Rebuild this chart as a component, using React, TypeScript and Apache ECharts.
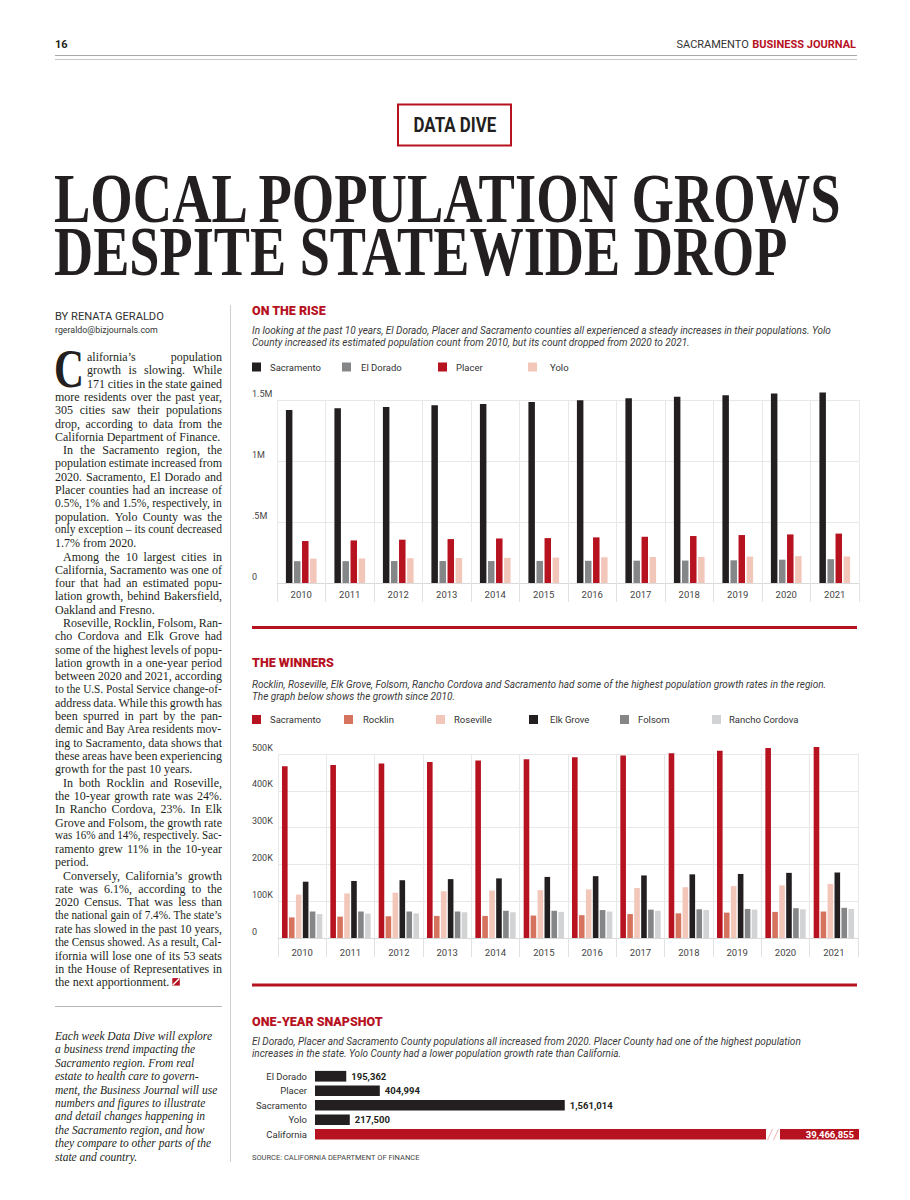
import React, { useEffect, useRef } from "react";
import * as echarts from "echarts";

// ---------- DATA ----------
const years = ["2010", "2011", "2012", "2013", "2014", "2015", "2016", "2017", "2018", "2019", "2020", "2021"];

const countyNames = ["Sacramento", "El Dorado", "Placer", "Yolo"];
const countySacramento = [1418000, 1432000, 1443000, 1456000, 1467000, 1484000, 1497000, 1514000, 1527000, 1538000, 1554000, 1561014];
const countyElDorado = [179000, 179000, 180000, 180000, 180000, 181000, 182000, 183000, 184000, 186000, 191000, 195362];
const countyPlacer = [344000, 349000, 355000, 360000, 365000, 368000, 374000, 379000, 385000, 393000, 398000, 404994];
const countyYolo = [200000, 201000, 203000, 205000, 206000, 208000, 211000, 213000, 214000, 216000, 220000, 217500];

const cityNames = ["Sacramento", "Rocklin", "Roseville", "Elk Grove", "Folsom", "Rancho Cordova"];
const citySacramento = [467000, 470000, 474000, 478000, 482000, 486000, 491000, 496000, 502000, 509000, 516000, 519000];
const cityRocklin = [56000, 58000, 59000, 60000, 60000, 61000, 62000, 65000, 67000, 69000, 71000, 72000];
const cityRoseville = [118000, 121000, 123000, 127000, 129000, 130000, 132000, 136000, 138000, 141000, 143000, 147000];
const cityElkGrove = [153000, 155000, 157000, 160000, 162000, 166000, 168000, 170000, 173000, 174000, 177000, 178000];
const cityFolsom = [72000, 72000, 72000, 72000, 74000, 74000, 76000, 77000, 78000, 79000, 81000, 82000];
const cityRanchoCordova = [65000, 66000, 67000, 70000, 70000, 71000, 72000, 74000, 76000, 77000, 78000, 79000];

const snapshotNames = ["El Dorado", "Placer", "Sacramento", "Yolo", "California"];
const snapshotValues = [195362, 404994, 1561014, 217500, 39466855];

const riseTickLabels = ["0", ".5M", "1M", "1.5M"];
const winnersTickLabels = ["0", "100K", "200K", "300K", "400K", "500K"];

const bodyLines = [
  "alifornia\u2019s population",
  "growth is slowing. While",
  "171 cities in the state gained",
  "more residents over the past year,",
  "305 cities saw their populations",
  "drop, according to data from the",
  "California Department of Finance.",
  "In the Sacramento region, the",
  "population estimate increased from",
  "2020. Sacramento, El Dorado and",
  "Placer counties had an increase of",
  "0.5%, 1% and 1.5%, respectively, in",
  "population. Yolo County was the",
  "only exception \u2013 its count decreased",
  "1.7% from 2020.",
  "Among the 10 largest cities in",
  "California, Sacramento was one of",
  "four that had an estimated popu-",
  "lation growth, behind Bakersfield,",
  "Oakland and Fresno.",
  "Roseville, Rocklin, Folsom, Ran-",
  "cho Cordova and Elk Grove had",
  "some of the highest levels of popu-",
  "lation growth in a one-year period",
  "between 2020 and 2021, according",
  "to the U.S. Postal Service change-of-",
  "address data. While this growth has",
  "been spurred in part by the pan-",
  "demic and Bay Area residents mov-",
  "ing to Sacramento, data shows that",
  "these areas have been experiencing",
  "growth for the past 10 years.",
  "In both Rocklin and Roseville,",
  "the 10-year growth rate was 24%.",
  "In Rancho Cordova, 23%. In Elk",
  "Grove and Folsom, the growth rate",
  "was 16% and 14%, respectively. Sac-",
  "ramento grew 11% in the 10-year",
  "period.",
  "Conversely, California\u2019s growth",
  "rate was 6.1%, according to the",
  "2020 Census. That was less than",
  "the national gain of 7.4%. The state\u2019s",
  "rate has slowed in the past 10 years,",
  "the Census showed. As a result, Cal-",
  "ifornia will lose one of its 53 seats",
  "in the House of Representatives in",
  "the next apportionment.",
];
const paragraphStarts = [7, 15, 20, 32, 39];
const paragraphEnds = [6, 14, 19, 31, 38, 47];

const noteLines = [
  "Each week Data Dive will explore",
  "a business trend impacting the",
  "Sacramento region. From real",
  "estate to health care to govern-",
  "ment, the Business Journal will use",
  "numbers and figures to illustrate",
  "and detail changes happening in",
  "the Sacramento region, and how",
  "they compare to other parts of the",
  "state and country.",
];

const riseSub = [
  "In looking at the past 10 years, El Dorado, Placer and Sacramento counties all experienced a steady increases in their populations. Yolo",
  "County increased its estimated population count from 2010, but its count dropped from 2020 to 2021.",
];
const winnersSub = [
  "Rocklin, Roseville, Elk Grove, Folsom, Rancho Cordova and Sacramento had some of the highest population growth rates in the region.",
  "The graph below shows the growth since 2010.",
];
const snapSub = [
  "El Dorado, Placer and Sacramento County populations all increased from 2020. Placer County had one of the highest population",
  "increases in the state. Yolo County had a lower population growth rate than California.",
];

// ---------- STYLE ----------
const RED = "#b7121f";
const BLACK = "#231f20";
const GRAY = "#858688";
const PINK = "#f3c6ba";
const SALMON = "#d6735f";
const LIGHTGRAY = "#d2d3d5";
const SANS = "Roboto";
const SERIF = "'Liberation Serif'";

export default function App() {
  const ref = useRef<HTMLDivElement>(null);

  useEffect(() => {
    const chart = echarts.init(ref.current!, null, { renderer: "svg", width: 910, height: 1200 });
    const canvas = document.createElement("canvas");
    const ctx = canvas.getContext("2d")!;
    const mw = (t: string, font: string) => {
      ctx.font = font.replace(/'/g, '"');
      return ctx.measureText(t).width;
    };
    const g: any[] = [];
    const txt = (text: string, x: number, y: number, font: string, fill: string, extra: any = {}) => {
      const align = extra.align || "left";
      const el: any = {
        type: "text",
        x,
        y,
        silent: true,
        style: { text, x: 0, y: 0, font, fill, textAlign: align, align, textVerticalAlign: "middle", verticalAlign: "middle" },
      };
      if (extra.scaleX) el.scaleX = extra.scaleX;
      g.push(el);
    };
    const line = (x1: number, y1: number, x2: number, y2: number, stroke: string, w = 1) =>
      g.push({ type: "line", silent: true, shape: { x1, y1, x2, y2 }, style: { stroke, lineWidth: w } });

    // header
    txt("16", 55, 44, `bold 11px ${SANS}`, BLACK);
    const hb = `bold 11px ${SANS}`;
    const wBJ = mw("BUSINESS JOURNAL", hb);
    txt("BUSINESS JOURNAL", 856, 44, hb, RED, { align: "right" });
    txt("SACRAMENTO", 856 - wBJ - 3.5, 44, `11px ${SANS}`, "#333", { align: "right" });
    line(55, 55.5, 857, 55.5, "#a8a8a8", 1.2);
    line(55, 59.5, 857, 59.5, "#c8c8c8", 1);

    // data dive box
    g.push({ type: "rect", silent: true, shape: { x: 398, y: 104.5, width: 113, height: 41 }, style: { fill: "none", stroke: RED, lineWidth: 2 } });
    const ddFont = `bold 20px ${SANS}`;
    const ddW = mw("DATA DIVE", ddFont);
    const ddS = 83 / ddW;
    txt("DATA DIVE", 455 - (ddW * ddS) / 2, 126, ddFont, BLACK, { scaleX: ddS });

    // headline
    const hf = `bold 70px ${SERIF}`;
    const t1 = "LOCAL POPULATION GROWS";
    const t2 = "DESPITE STATEWIDE DROP";
    txt(t1, 54, 199, hf, BLACK, { scaleX: 790 / mw(t1, hf) });
    txt(t2, 54, 251.5, hf, BLACK, { scaleX: 734 / mw(t2, hf) });

    // byline
    const byF = `10.5px ${SANS}`;
    txt("BY RENATA GERALDO", 55, 317, byF, "#333", { scaleX: 109 / mw("BY RENATA GERALDO", byF) });
    const emF = `9px ${SANS}`;
    txt("rgeraldo@bizjournals.com", 55, 330, emF, "#333", { scaleX: 103 / mw("rgeraldo@bizjournals.com", emF) });

    // drop cap
    const dcf = `bold 54px ${SERIF}`;
    txt("C", 54, 369, dcf, BLACK, { scaleX: 30 / mw("C", dcf) });

    // body text, justified
    const bf = `12px ${SERIF}`;
    const colL = 55;
    const colR = 222;
    bodyLines.forEach((ln, i) => {
      const y = 357 + i * 13.3;
      let x0 = colL;
      if (i < 3) x0 = 87;
      if (paragraphStarts.includes(i)) x0 = colL + 8;
      const width = colR - x0;
      const justify = !paragraphEnds.includes(i);
      const natural = mw(ln, bf);
      if (!justify) {
        const s = natural > width ? width / natural : 1;
        txt(ln, x0, y, bf, BLACK, s < 1 ? { scaleX: s } : {});
        if (i === bodyLines.length - 1) {
          const lx = x0 + natural * s + 3;
          g.push({ type: "rect", silent: true, shape: { x: lx, y: y - 4, width: 7.5, height: 7.5 }, style: { fill: RED } });
          line(lx + 0.5, y + 3, lx + 7, y - 3.5, "#fff", 1.4);
        }
        return;
      }
      const words = ln.split(" ");
      const ws = words.map((w) => mw(w, bf));
      const sum = ws.reduce((a, b) => a + b, 0);
      const gap = words.length > 1 ? (width - sum) / (words.length - 1) : 0;
      if (words.length < 2 || gap < 2.2) {
        txt(ln, x0, y, bf, BLACK, { scaleX: width / natural });
        return;
      }
      let x = x0;
      words.forEach((w, k) => {
        txt(w, x, y, bf, BLACK);
        x += ws[k] + gap;
      });
    });

    // left column rule + note
    line(55, 1006.5, 222, 1006.5, "#b5b5b5", 1);
    const nf = `italic 11.5px ${SERIF}`;
    noteLines.forEach((ln, i) => txt(ln, 55, 1036 + i * 13.4, nf, BLACK));

    // column separator
    line(230.5, 305, 230.5, 1162, "#cfcfcf", 1);

    // chart headings
    const headF = `900 12.5px ${SANS}`;
    txt("ON THE RISE", 252, 310.5, headF, RED);
    txt("THE WINNERS", 252, 662, headF, RED);
    txt("ONE-YEAR SNAPSHOT", 252, 1021, headF, RED);

    const subBlock = (lines: string[], y: number, target: number) => {
      const base = 9;
      let size = (base * target) / mw(lines[0], `italic ${base}px ${SANS}`);
      size = Math.max(8, Math.min(10, size));
      const f = `italic ${size.toFixed(2)}px ${SANS}`;
      lines.forEach((l, i) => txt(l, 252, y + i * 12, f, "#3a3a3a"));
    };
    subBlock(riseSub, 330, 599);
    subBlock(winnersSub, 684, 582);
    subBlock(snapSub, 1041, 562);

    // red rules
    g.push({ type: "rect", silent: true, shape: { x: 252, y: 626, width: 605, height: 3 }, style: { fill: RED } });
    g.push({ type: "rect", silent: true, shape: { x: 252, y: 983.5, width: 605, height: 3 }, style: { fill: RED } });

    // axis break on California bar
    g.push({ type: "rect", silent: true, z: 100, shape: { x: 766, y: 1127.5, width: 14, height: 14 }, style: { fill: "#fff" } });
    g.push({ type: "line", silent: true, z: 101, shape: { x1: 767.5, y1: 1140, x2: 772.5, y2: 1129 }, style: { stroke: "#f0b4b4", lineWidth: 1 } });
    g.push({ type: "line", silent: true, z: 101, shape: { x1: 773.5, y1: 1140, x2: 778.5, y2: 1129 }, style: { stroke: "#f0b4b4", lineWidth: 1 } });

    // source
    txt("SOURCE: CALIFORNIA DEPARTMENT OF FINANCE", 252, 1157, `7.5px ${SANS}`, "#444");

    // legends
    const legendTextStyle = (pad: number) => ({ fontSize: 9.5, color: "#333", fontFamily: SANS, padding: [0, 0, 0, pad] });
    const mkLegend = (name: string, color: string, left: number, top: number, pad = 4) => ({
      data: [{ name, itemStyle: { color } }],
      left,
      top,
      padding: 0,
      icon: "rect",
      itemWidth: 9,
      itemHeight: 9,
      selectedMode: false,
      textStyle: legendTextStyle(pad),
    });
    const countyColors = [BLACK, GRAY, RED, PINK];
    const cityColors = [RED, SALMON, PINK, BLACK, GRAY, LIGHTGRAY];
    const leg1Left = [252, 342, 438, 528];
    const leg1Pad = [4, 5, 4, 8];
    const leg2Left = [252, 344, 436, 529, 620, 712];
    const leg2Pad = [4, 5, 4, 7, 4, 3];
    const legends = [
      ...countyNames.map((n, i) => mkLegend(n, countyColors[i], leg1Left[i], 362, leg1Pad[i])),
      ...cityNames.map((n, i) => mkLegend(n, cityColors[i], leg2Left[i], 714.5, leg2Pad[i])),
    ];

    const axisLabelY = (labels: string[], step: number, margin: number) => ({
      align: "left",
      margin,
      verticalAlign: "bottom",
      lineHeight: 13,
      color: "#444",
      fontSize: 9,
      fontFamily: SANS,
      formatter: (v: number) => labels[Math.round(v / step)] ?? "",
    });
    const catAxis = (gridIndex: number, margin: number) => ({
      type: "category",
      gridIndex,
      data: years,
      axisLine: { show: true, lineStyle: { color: "#d9d9d9" } },
      axisTick: { show: true, length: 19, lineStyle: { color: "#e2e2e2" } },
      splitLine: { show: true, lineStyle: { color: "#e8e8e8" } },
      axisLabel: { color: "#444", fontSize: 9.5, margin, fontFamily: SANS },
    });

    const countySeries = [countySacramento, countyElDorado, countyPlacer, countyYolo].map((d, i) => ({
      type: "bar",
      name: countyNames[i],
      xAxisIndex: 0,
      yAxisIndex: 0,
      data: d,
      barWidth: 6.5,
      barGap: "24%",
      clip: false,
      itemStyle: { color: countyColors[i] },
    }));
    const citySeries = [citySacramento, cityRocklin, cityRoseville, cityElkGrove, cityFolsom, cityRanchoCordova].map((d, i) => ({
      type: "bar",
      name: cityNames[i],
      xAxisIndex: 1,
      yAxisIndex: 1,
      data: d,
      barWidth: 5.6,
      barGap: "24%",
      clip: false,
      itemStyle: { color: cityColors[i] },
    }));
    const snapSeries = {
      type: "bar",
      name: "One-year snapshot",
      xAxisIndex: 2,
      yAxisIndex: 2,
      barWidth: 10.7,
      clip: true,
      data: snapshotValues.map((v, i) => {
        const isState = i === snapshotValues.length - 1;
        return {
          value: v,
          itemStyle: { color: isState ? RED : BLACK },
          label: isState ? { position: "insideRight", color: "#fff", distance: 5 } : undefined,
        };
      }),
      label: {
        show: true,
        position: "right",
        distance: 5,
        color: BLACK,
        fontWeight: "bold",
        fontSize: 9.5,
        fontFamily: SANS,
        formatter: (p: any) => Number(p.value).toLocaleString("en-US"),
      },
    };

    const option: any = {
      animation: false,
      backgroundColor: "#fff",
      textStyle: { fontFamily: SANS },
      legend: legends,
      grid: [
        { left: 277, top: 400, width: 582, height: 183 },
        { left: 278, top: 754, width: 580, height: 184 },
        { left: 315, top: 1069, width: 544, height: 72.5 },
      ],
      xAxis: [
        catAxis(0, 6),
        catAxis(1, 9),
        { type: "value", gridIndex: 2, min: 0, max: 3400000, show: false },
      ],
      yAxis: [
        {
          type: "value",
          gridIndex: 0,
          min: 0,
          max: 1500000,
          interval: 500000,
          axisLine: { show: false },
          axisTick: { show: false },
          splitLine: { lineStyle: { color: "#e8e8e8" } },
          axisLabel: axisLabelY(riseTickLabels, 500000, 25),
        },
        {
          type: "value",
          gridIndex: 1,
          min: 0,
          max: 500000,
          interval: 100000,
          axisLine: { show: false },
          axisTick: { show: false },
          splitLine: { lineStyle: { color: "#e8e8e8" } },
          axisLabel: axisLabelY(winnersTickLabels, 100000, 26),
        },
        {
          type: "category",
          gridIndex: 2,
          inverse: true,
          data: snapshotNames,
          axisLine: { show: false },
          axisTick: { show: false },
          axisLabel: { color: "#333", fontSize: 9.5, margin: 8, fontFamily: SANS },
        },
      ],
      series: [...countySeries, ...citySeries, snapSeries],
      graphic: g,
    };
    chart.setOption(option);
    return () => chart.dispose();
  }, []);

  return (
    <div
      ref={ref}
      style={{ position: "absolute", left: 0, top: 0, width: 910, height: 1200, background: "#fff" }}
    />
  );
}
